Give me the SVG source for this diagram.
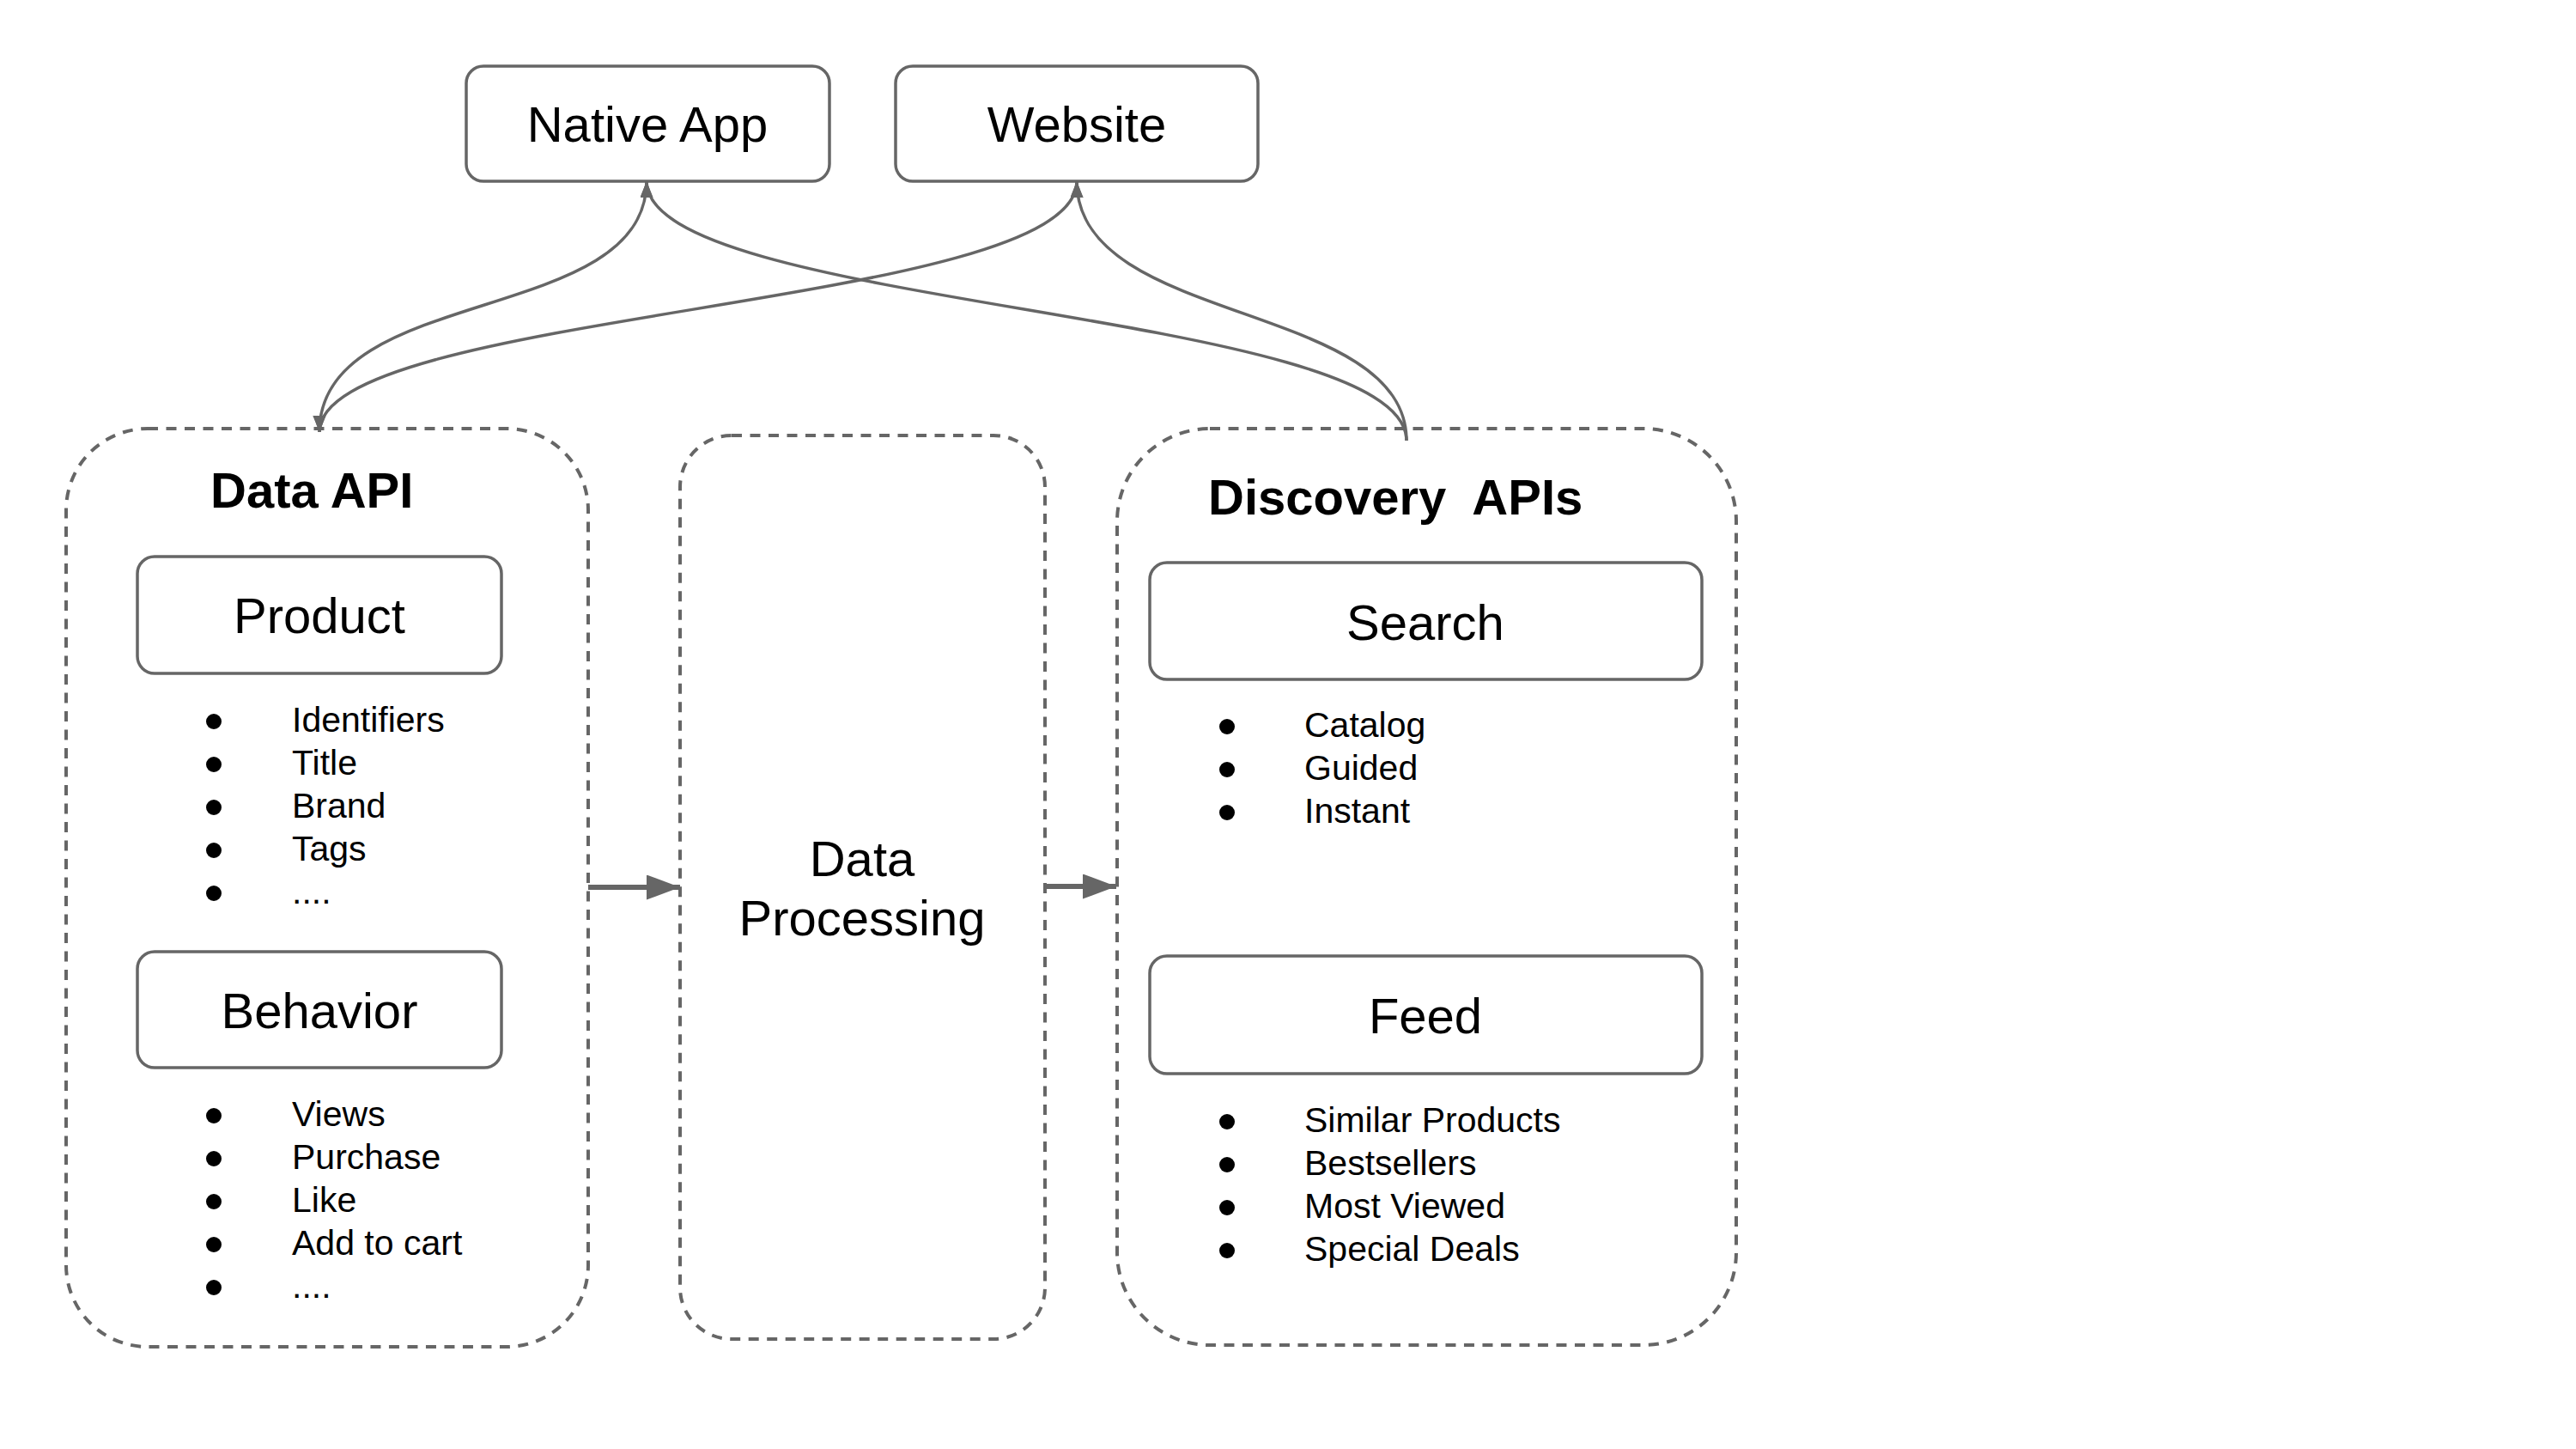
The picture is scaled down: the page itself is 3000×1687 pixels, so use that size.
<svg xmlns="http://www.w3.org/2000/svg" width="3000" height="1687" viewBox="0 0 3000 1687">
<style>
  .box{fill:#fff;stroke:#666;stroke-width:3.5}
  .grp{fill:none;stroke:#666;stroke-width:4;stroke-dasharray:12 9.5}
  .lbl{font-family:"Liberation Sans",Arial,sans-serif;font-size:58px;fill:#000;text-anchor:middle}
  .ttl{font-family:"Liberation Sans",Arial,sans-serif;font-size:58px;font-weight:bold;fill:#000}
  .li{font-family:"Liberation Sans",Arial,sans-serif;font-size:41px;fill:#000}
  .dot{fill:#000}
  .cv{fill:none;stroke:#666;stroke-width:3.5}
  .ar{fill:none;stroke:#666;stroke-width:6}
</style>
<defs>
  <marker id="sm" markerUnits="userSpaceOnUse" markerWidth="20" markerHeight="16" refX="19" refY="7.5" orient="auto-start-reverse">
    <path d="M0,0 L19,7.5 L0,15 z" fill="#666"/>
  </marker>
  <marker id="bg" markerUnits="userSpaceOnUse" markerWidth="40" markerHeight="30" refX="39" refY="14.5" orient="auto">
    <path d="M0,0 L39,14.5 L0,29 z" fill="#666"/>
  </marker>
</defs>
<rect width="3000" height="1687" fill="#fff"/>

<g id="data-api">
  <rect class="grp" x="77" y="499" width="608" height="1069" rx="95" ry="95"/>
  <text class="ttl" x="245" y="591">Data API</text>
  <g id="product">
    <rect class="box" x="160" y="648" width="424" height="136" rx="20" ry="20"/>
    <text class="lbl" x="372" y="737">Product</text>
  </g>
  <g id="product-list">
    <circle class="dot" cx="249" cy="840" r="9"/><text class="li" x="340" y="852">Identifiers</text>
    <circle class="dot" cx="249" cy="890" r="9"/><text class="li" x="340" y="902">Title</text>
    <circle class="dot" cx="249" cy="940" r="9"/><text class="li" x="340" y="952">Brand</text>
    <circle class="dot" cx="249" cy="990" r="9"/><text class="li" x="340" y="1002">Tags</text>
    <circle class="dot" cx="249" cy="1040" r="9"/><text class="li" x="340" y="1052">....</text>
  </g>
  <g id="behavior">
    <rect class="box" x="160" y="1108" width="424" height="135" rx="20" ry="20"/>
    <text class="lbl" x="372" y="1197">Behavior</text>
  </g>
  <g id="behavior-list">
    <circle class="dot" cx="249" cy="1299" r="9"/><text class="li" x="340" y="1311">Views</text>
    <circle class="dot" cx="249" cy="1349" r="9"/><text class="li" x="340" y="1361">Purchase</text>
    <circle class="dot" cx="249" cy="1399" r="9"/><text class="li" x="340" y="1411">Like</text>
    <circle class="dot" cx="249" cy="1449" r="9"/><text class="li" x="340" y="1461">Add to cart</text>
    <circle class="dot" cx="249" cy="1499" r="9"/><text class="li" x="340" y="1511">....</text>
  </g>
</g>

<g id="data-processing">
  <rect class="grp" x="792" y="507" width="425" height="1052" rx="60" ry="60"/>
  <text class="lbl" x="1004" y="1020">Data</text>
  <text class="lbl" x="1004" y="1089">Processing</text>
</g>

<g id="discovery-apis">
  <rect class="grp" x="1301" y="499" width="721" height="1067" rx="108" ry="108"/>
  <text class="ttl" x="1407" y="599" xml:space="preserve">Discovery  APIs</text>
  <g id="search">
    <rect class="box" x="1339" y="655" width="643" height="136" rx="20" ry="20"/>
    <text class="lbl" x="1660" y="745">Search</text>
  </g>
  <g id="search-list">
    <circle class="dot" cx="1429" cy="846" r="9"/><text class="li" x="1519" y="858">Catalog</text>
    <circle class="dot" cx="1429" cy="896" r="9"/><text class="li" x="1519" y="908">Guided</text>
    <circle class="dot" cx="1429" cy="946" r="9"/><text class="li" x="1519" y="958">Instant</text>
  </g>
  <g id="feed">
    <rect class="box" x="1339" y="1113" width="643" height="137" rx="20" ry="20"/>
    <text class="lbl" x="1660" y="1203">Feed</text>
  </g>
  <g id="feed-list">
    <circle class="dot" cx="1429" cy="1306" r="9"/><text class="li" x="1519" y="1318">Similar Products</text>
    <circle class="dot" cx="1429" cy="1356" r="9"/><text class="li" x="1519" y="1368">Bestsellers</text>
    <circle class="dot" cx="1429" cy="1406" r="9"/><text class="li" x="1519" y="1418">Most Viewed</text>
    <circle class="dot" cx="1429" cy="1456" r="9"/><text class="li" x="1519" y="1468">Special Deals</text>
  </g>
</g>

<g id="native-app">
  <rect class="box" x="543" y="77" width="423" height="134" rx="20" ry="20"/>
  <text class="lbl" x="754" y="165">Native App</text>
</g>
<g id="website">
  <rect class="box" x="1043" y="77" width="422" height="134" rx="20" ry="20"/>
  <text class="lbl" x="1254" y="165">Website</text>
</g>

<g id="connectors">
  <path class="cv" d="M753,211 C753,380 372,330 372,503" marker-start="url(#sm)" marker-end="url(#sm)"/>
  <path class="cv" d="M1254,211 C1254,360 372,360 372,503" marker-start="url(#sm)" marker-end="url(#sm)"/>
  <path class="cv" d="M753,211 C753,360 1638,360 1638,513" marker-start="url(#sm)"/>
  <path class="cv" d="M1254,211 C1254,380 1638,350 1638,513" marker-start="url(#sm)"/>
  <path class="ar" d="M685,1033 L792,1033" marker-end="url(#bg)"/>
  <path class="ar" d="M1217,1032 L1300,1032" marker-end="url(#bg)"/>
</g>
</svg>
